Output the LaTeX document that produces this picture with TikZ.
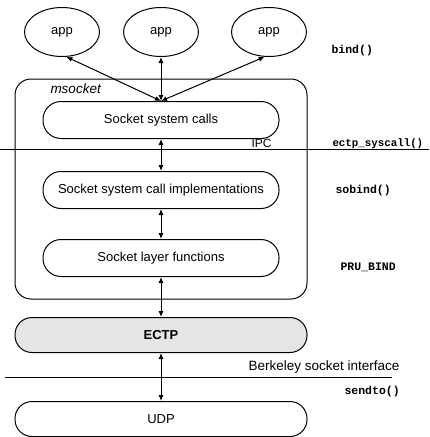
\documentclass[tikz,border=0pt]{standalone}
\usepackage{fontspec}
\setmainfont{Liberation Sans}
\setsansfont{Liberation Sans}
\setmonofont{Liberation Mono}
\usetikzlibrary{shapes.geometric,arrows.meta}
\begin{document}
\begin{tikzpicture}[x=1pt,y=-1pt,
  line width=1pt,
  appnode/.style={ellipse,draw,minimum width=75pt,minimum height=49pt,inner sep=0pt,font=\fontsize{13}{15}\selectfont},
  layerbox/.style={draw,rounded corners=18pt,minimum width=236pt,minimum height=37pt,inner sep=0pt,font=\fontsize{13}{15}\selectfont},
  widebox/.style={draw,rounded corners=17pt,minimum width=292pt,minimum height=35pt,inner sep=0pt,font=\fontsize{13}{15}\selectfont},
  codelabel/.style={anchor=west,inner sep=0pt,font=\ttfamily\bfseries\fontsize{11.5}{13}\selectfont},
  biarrow/.style={{Latex[length=6pt,width=5pt]}-{Latex[length=6pt,width=5pt]}}
]
\useasboundingbox (0,0) rectangle (429,437);
% apps
\node[appnode] (app1) at (62,32) {app};
\node[appnode] (app2) at (161,32) {app};
\node[appnode] (app3) at (269,32) {app};
% msocket container
\node[draw,rounded corners=16pt,minimum width=292pt,minimum height=220pt,inner sep=0pt] (ms) at (161,189) {};
\node[anchor=west,inner sep=0pt,font=\itshape\fontsize{13.5}{15}\selectfont] (mslabel) at (50,89) {msocket};
% layers
\node[layerbox] (sc) at (161,120) {Socket system calls};
\node[layerbox] (sci) at (161,190) {Socket system call implementations};
\node[layerbox] (slf) at (161,258) {Socket layer functions};
\node[widebox,fill=gray!20] (ectp) at (161,335) {\bfseries ECTP};
\node[widebox] (udp) at (161,419) {UDP};
% horizontal boundaries
\coordinate (ipcL) at (0,149);
\coordinate (ipcR) at (429,149);
\draw (ipcL) -- (ipcR);
\coordinate (bsiL) at (5,377);
\coordinate (bsiR) at (392,377);
\draw (bsiL) -- (bsiR);
\node[anchor=west,inner sep=0pt,font=\fontsize{12}{14}\selectfont] (ipc) at (251,143) {IPC};
\node[anchor=west,inner sep=0pt,font=\fontsize{13.5}{15}\selectfont] (bsi) at (248,367) {Berkeley socket interface};
% code labels
\node[codelabel] (bind) at (331,51) {bind()};
\node[codelabel,font=\ttfamily\bfseries\fontsize{10.8}{13}\selectfont] (sys) at (332,144) {ectp\_syscall()};
\node[codelabel] (sob) at (335,191) {sobind()};
\node[codelabel] (pru) at (340,267) {PRU\_BIND};
\node[codelabel] (send) at (344,392) {sendto()};
% arrows
\draw[biarrow] (sc.north) -- (app1.-80);
\draw[biarrow] (sc.north) -- (app2.south);
\draw[biarrow] (sc.north) -- (app3.-100);
\draw[biarrow] (sc.south) -- (sci.north);
\draw[biarrow] (sci.south) -- (slf.north);
\draw[biarrow] (slf.south) -- (ectp.north);
\draw[biarrow] (ectp.south) -- (udp.north);
\end{tikzpicture}
\end{document}
